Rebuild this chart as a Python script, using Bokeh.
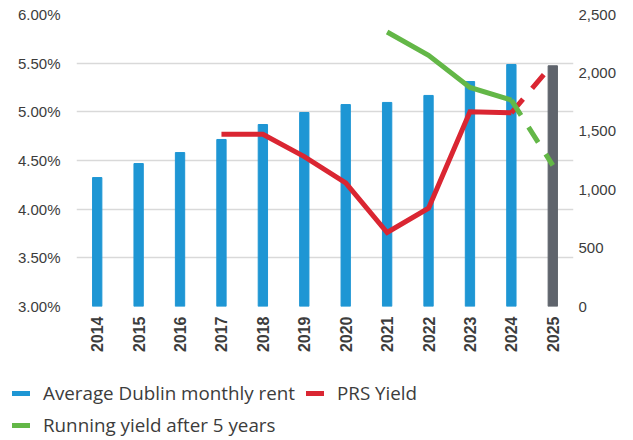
import math
from bokeh.plotting import figure
from bokeh.layouts import column
from bokeh.models import (Range1d, LinearAxis, FixedTicker, NumeralTickFormatter,
                          CustomJSTickFormatter, Legend, LegendItem, FactorRange)
from bokeh.embed import file_html
from bokeh.resources import INLINE

# ---- data ----
years = ["2014", "2015", "2016", "2017", "2018", "2019",
         "2020", "2021", "2022", "2023", "2024", "2025"]
rent = [1104, 1224, 1318, 1430, 1558, 1661, 1729, 1747, 1807, 1926, 2072, 2061]

prs_years = ["2017", "2018", "2019", "2020", "2021", "2022", "2023", "2024"]
prs_yield = [4.77, 4.77, 4.54, 4.27, 3.76, 4.01, 5.00, 4.99]
prs_proj_years = ["2024", "2025"]
prs_proj = [4.99, 5.49]

run_years = ["2021", "2022", "2023", "2024"]
run_yield = [5.82, 5.58, 5.25, 5.12]
run_proj_years = ["2024", "2025"]
run_proj = [5.12, 4.45]

left_ticks = [3.0, 3.5, 4.0, 4.5, 5.0, 5.5, 6.0]
right_ticks = [0, 500, 1000, 1500, 2000, 2500]

legend_labels = ["Average Dublin monthly rent", "PRS Yield", "Running yield after 5 years"]

BLUE = "#1e96d4"
GREY = "#5f646c"
RED = "#da2632"
GREEN = "#63b747"
TEXT = "#3c3c3c"
GRID = "#d9d9d9"

bar_colors = [GREY if y == "2025" else BLUE for y in years]

p = figure(x_range=FactorRange(*years), y_range=Range1d(3, 6),
           frame_width=497, frame_height=292,
           min_border_left=76, min_border_right=60, min_border_top=14, min_border_bottom=54,
           output_backend="svg", toolbar_location=None)
p.frame_align = False
p.outline_line_color = None
p.background_fill_color = None
p.border_fill_color = "white"

p.extra_y_ranges = {"rent": Range1d(0, 2500)}

p.vbar(x=years, top=rent, bottom=0, width=0.225, color=bar_colors, y_range_name="rent")

p.line(prs_years, prs_yield, line_color=RED, line_width=5, line_join="miter")
p.line(prs_proj_years, prs_proj, line_color=RED, line_width=5, line_dash="18 14")
p.line(run_years, run_yield, line_color=GREEN, line_width=5, line_join="miter")
p.line(run_proj_years, run_proj, line_color=GREEN, line_width=5, line_dash="18 14")

# axes
la = p.yaxis[0]
la.ticker = FixedTicker(ticks=left_ticks)
la.formatter = CustomJSTickFormatter(code="return tick.toFixed(2) + '%';")

ra = LinearAxis(y_range_name="rent", ticker=FixedTicker(ticks=right_ticks),
                formatter=NumeralTickFormatter(format="0,0"))
p.add_layout(ra, "right")

for ax in [la, ra]:
    ax.axis_line_color = None
    ax.major_tick_line_color = None
    ax.minor_tick_line_color = None
    ax.major_tick_out = 0
    ax.major_tick_in = 0
    ax.major_label_text_font = "Liberation Sans"
    ax.major_label_text_font_size = "15px"
    ax.major_label_text_color = TEXT
la.major_label_standoff = 16
ra.major_label_standoff = 5

xa = p.xaxis[0]
xa.axis_line_color = None
xa.major_tick_line_color = None
xa.minor_tick_line_color = None
xa.major_tick_out = 0
xa.major_tick_in = 0
xa.major_label_orientation = math.pi / 2
xa.major_label_text_font = "Liberation Sans"
xa.major_label_text_font_style = "bold"
xa.major_label_text_font_size = "16px"
xa.major_label_text_color = TEXT
xa.major_label_standoff = 10

p.xgrid.grid_line_color = None
p.ygrid.grid_line_color = GRID
p.ygrid.grid_line_width = 1.5

# ---- legend figure ----
lg = figure(width=633, height=80, x_range=Range1d(0, 1), y_range=Range1d(0, 1),
            x_axis_location=None, y_axis_location=None,
            min_border_left=0, min_border_right=0, min_border_top=0, min_border_bottom=0,
            output_backend="svg", toolbar_location=None)
lg.frame_align = False
lg.outline_line_color = None
lg.xgrid.grid_line_color = None
lg.ygrid.grid_line_color = None
lg.border_fill_color = "white"
lg.background_fill_color = "white"

# proxy renderers (their data lie outside the legend figure's visible range)
r_rent = lg.line(x=prs_yield, y=prs_yield, line_color=BLUE, line_width=5, line_cap="round")
r_prs = lg.line(x=prs_yield, y=prs_yield, line_color=RED, line_width=5, line_cap="round")
r_run = lg.line(x=run_yield, y=run_yield, line_color=GREEN, line_width=5, line_cap="round")

legend = Legend(items=[LegendItem(label=legend_labels[0], renderers=[r_rent]),
                       LegendItem(label=legend_labels[1], renderers=[r_prs]),
                       LegendItem(label=legend_labels[2], renderers=[r_run])],
                orientation="horizontal", ncols=2,
                location=(12, 2), padding=0, margin=0, spacing=6,
                glyph_width=18, glyph_height=20, label_height=20, label_standoff=13,
                label_width=257,
                label_text_font="Open Sans", label_text_font_size="18.8px",
                label_text_color=TEXT, border_line_color=None,
                background_fill_alpha=0)
lg.add_layout(legend, "center")

layout = column(p, lg, spacing=0)
open("out.html", "w").write(file_html(layout, INLINE))
